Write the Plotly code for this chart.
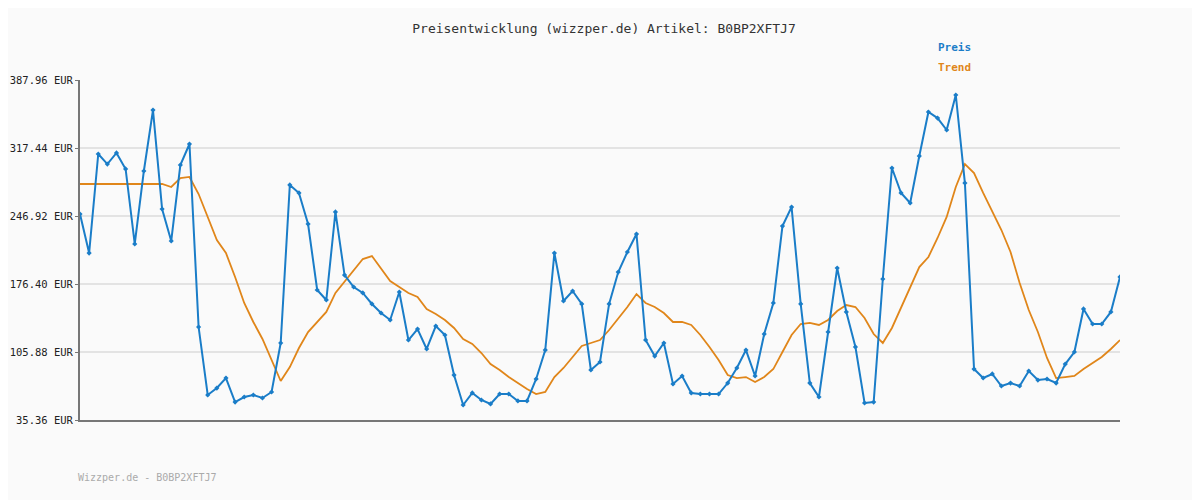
import plotly.graph_objects as go

preis = [249.0, 208.5, 311.2, 300.8, 312.3, 295.7, 217.9, 293.6, 356.8, 254.2,
         221.0, 299.8, 321.6, 131.8, 61.3, 68.5, 78.9, 54.0, 59.2, 61.3,
         58.2, 64.4, 115.2, 279.1, 270.8, 238.6, 170.2, 159.8, 251.1, 185.7,
         173.3, 167.1, 155.7, 146.3, 139.1, 168.1, 118.3, 129.7, 109.0, 132.8,
         123.5, 82.0, 50.9, 63.4, 56.1, 52.0, 62.3, 62.3, 55.1, 55.1,
         77.9, 107.9, 208.5, 158.8, 169.1, 155.7, 87.2, 95.5, 155.7, 188.8,
         209.6, 228.2, 118.3, 101.7, 115.2, 72.7, 81.0, 63.4, 62.3, 62.3,
         62.3, 73.7, 89.3, 107.9, 81.0, 124.5, 156.7, 236.5, 256.2, 155.7,
         73.7, 59.2, 126.6, 193.0, 147.4, 111.1, 53.0, 54.0, 181.6, 296.7,
         270.8, 260.4, 309.1, 354.8, 348.5, 336.1, 372.4, 281.1, 88.2, 78.9,
         83.1, 70.6, 73.7, 70.6, 86.2, 76.8, 77.9, 73.7, 93.4, 105.9,
         150.5, 134.9, 134.9, 147.4, 183.7]

trend = [280.1, 280.1, 280.1, 280.1, 280.1, 280.1, 280.1, 280.1, 280.1, 280.1,
         277.0, 286.3, 287.4, 269.7, 245.9, 222.0, 208.5, 183.7, 156.7, 137.0,
         119.4, 97.6, 75.8, 90.3, 110.0, 126.6, 137.0, 147.4, 167.1, 178.5,
         190.9, 202.3, 205.4, 193.0, 179.5, 173.3, 167.1, 162.9, 150.5, 145.3,
         139.1, 130.8, 119.4, 114.2, 104.8, 93.4, 87.2, 79.9, 73.7, 67.5,
         62.3, 64.4, 79.9, 89.3, 100.7, 112.1, 115.2, 118.3, 128.7, 140.1,
         152.5, 166.0, 156.7, 152.5, 146.3, 137.0, 137.0, 133.9, 123.5, 111.1,
         97.6, 82.0, 78.9, 79.9, 74.8, 79.9, 88.2, 105.9, 123.5, 134.9,
         136.0, 133.9, 139.1, 148.4, 154.6, 152.5, 141.1, 124.5, 115.2, 130.8,
         151.5, 173.3, 194.0, 204.4, 224.1, 245.9, 277.0, 300.8, 291.5, 270.8,
         251.1, 232.4, 209.6, 177.4, 149.4, 126.6, 99.7, 78.9, 79.9, 81.0,
         88.2, 94.5, 100.7, 109.0, 118.3]

tick_vals = [35.36, 105.88, 176.40, 246.92, 317.44, 387.96]
tick_text = ["%.2f EUR" % v for v in tick_vals]

x = list(range(len(preis)))
font = "DejaVu Sans Mono"

fig = go.Figure()
fig.add_trace(go.Scatter(x=x, y=trend, mode="lines", name="Trend",
                         line=dict(color="#e0861a", width=1.8)))
fig.add_trace(go.Scatter(x=x, y=preis, mode="lines+markers", name="Preis",
                         line=dict(color="#1a7dc8", width=2),
                         marker=dict(symbol="diamond", size=4, color="#1a7dc8")))

# page body has an 8px margin, so the figure sits 8px in from the top-left
fig.update_layout(
    width=1192, height=492,
    margin=dict(l=72, r=80, t=72, b=80, autoexpand=False),
    paper_bgcolor="#fafafa", plot_bgcolor="#fafafa",
    font=dict(family=font, size=12, color="#333"),
    title=dict(text="Preisentwicklung (wizzper.de) Artikel: B0BP2XFTJ7",
               x=0.5, y=0.968, xanchor="center", font=dict(size=13, color="#333")),
    showlegend=False,
    xaxis=dict(range=[0, len(preis) - 1], showticklabels=False, showgrid=False,
               zeroline=False, showline=True, linecolor="#777", linewidth=2,
               automargin=False),
    yaxis=dict(range=[35.36, 387.96], tickvals=tick_vals, ticktext=tick_text,
               showgrid=True, gridcolor="#e3e3e3", gridwidth=2, zeroline=False,
               showline=True, linecolor="#777", linewidth=2,
               ticks="outside", ticklen=3, tickcolor="#777", automargin=False,
               tickfont=dict(size=10.5, color="#222")),
)
labels = [("<b>Preis</b>", "#1a7dc8", 936, 39),
          ("<b>Trend</b>", "#e0861a", 936, 59)]
for txt, col, px_, py_ in labels:
    fig.add_annotation(text=txt, x=(px_ - 80) / 1040, y=(420 - py_) / 340,
                       xref="paper", yref="paper", showarrow=False,
                       xanchor="left", font=dict(color=col, size=11))
fig.add_annotation(text="Wizzper.de - B0BP2XFTJ7", x=(76 - 80) / 1040,
                   y=(420 - 485) / 340, xref="paper", yref="paper",
                   showarrow=False, xanchor="left",
                   font=dict(color="#aaa", size=10))

fig.write_html("out.html")
